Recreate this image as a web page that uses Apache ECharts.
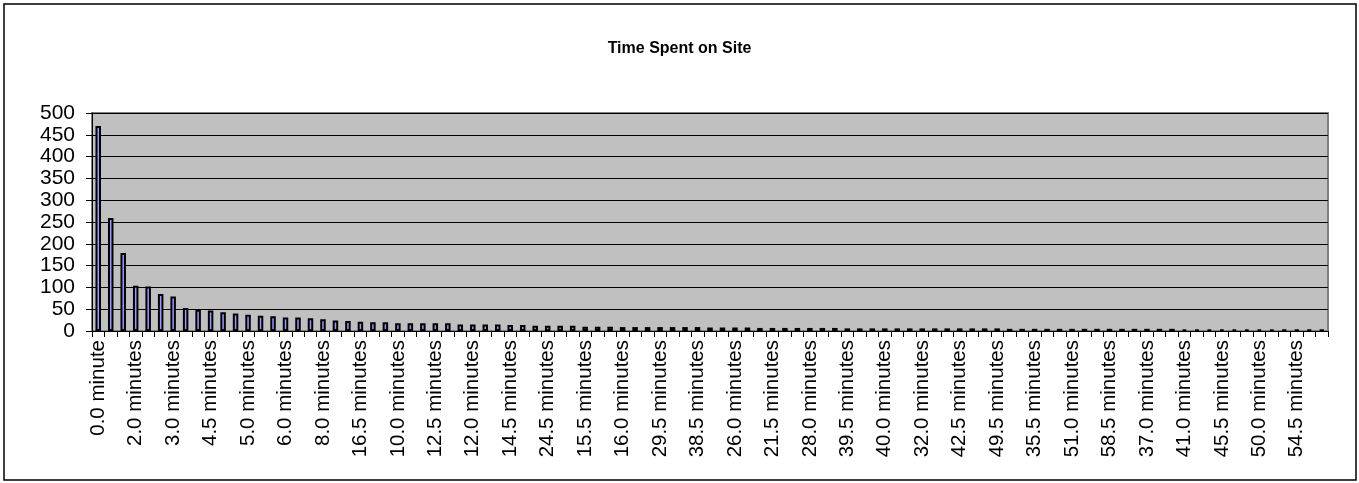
<!DOCTYPE html>
<html>
<head>
<meta charset="utf-8">
<script src="https://cdn.jsdelivr.net/npm/echarts@6/dist/echarts.min.js"></script>
<style>
html,body{margin:0;padding:0;background:#fff;}
#c{width:1359px;height:483px;}
</style>
</head>
<body>
<div id="c"></div>
<script>
const titleText = 'Time Spent on Site';

const minuteValues = [
  '0.0','0.5','1.0', '2.0','1.5','2.5', '3.0','3.5','4.0', '4.5','5.5','6.5',
  '5.0','7.0','7.5', '6.0','8.5','9.0', '8.0','9.5','11.0', '16.5','10.5','11.5',
  '10.0','13.0','13.5', '12.5','14.0','17.0', '12.0','18.0','15.0', '14.5','17.5','19.0',
  '24.5','18.5','20.0', '15.5','19.5','22.0', '16.0','20.5','21.0', '29.5','23.0','22.5',
  '38.5','25.0','23.5', '26.0','24.0','27.0', '21.5','25.5','30.0', '28.0','26.5','31.0',
  '39.5','27.5','33.0', '40.0','28.5','34.0', '32.0','30.5','36.0', '42.5','31.5','33.5',
  '49.5','34.5','43.0', '35.5','36.5','44.0', '51.0','32.5','47.0', '58.5','37.5','46.0',
  '37.0','38.0','48.0', '41.0','44.5','52.0', '45.5','39.0','53.5', '50.0','42.0','55.0',
  '54.5','47.5','56.5'
];
const categories = minuteValues.map(v => v === '0.0' ? v + ' minute' : v + ' minutes');

const visits = [
  470, 259, 179, 104, 102, 85, 79, 53, 49, 47,
  43, 40, 37, 35, 34, 31, 31, 29, 27, 24,
  23, 21, 20, 20, 18, 18, 18, 18, 18, 15,
  15, 15, 15, 14, 14, 12, 12, 12, 12, 10,
  10, 10, 9, 9, 9, 9, 9, 9, 9, 8,
  8, 8, 8, 7, 7, 7, 7, 7, 7, 7,
  6, 6, 6, 6, 6, 6, 6, 6, 6, 6,
  6, 6, 6, 5, 5, 5, 5, 5, 5, 5,
  5, 5, 5, 5, 5, 5, 5, 4, 4, 4,
  4, 4, 4, 4, 4, 3, 3, 3, 3
];

const yTicks = { min: 0, max: 500, interval: 50 };

const chart = echarts.init(document.getElementById('c'), null, {renderer: 'canvas'});
const font = '"Liberation Sans", Arial, sans-serif';
chart.setOption({
  animation: false,
  backgroundColor: '#ffffff',
  title: {
    text: titleText,
    left: 'center',
    top: 36,
    textStyle: { fontFamily: font, fontSize: 16, fontWeight: 'bold', color: '#000' }
  },
  graphic: [{
    type: 'rect',
    shape: { x: 4, y: 4, width: 1352, height: 476 },
    style: { fill: 'none', stroke: '#000', lineWidth: 1.5 },
    silent: true, z: 100
  }],
  grid: {
    left: 92, top: 113, right: 31, bottom: 152,
    show: true, backgroundColor: '#C0C0C0', borderColor: '#808080', borderWidth: 2,
    containLabel: false
  },
  xAxis: {
    type: 'category',
    data: categories,
    boundaryGap: true,
    axisLine: { show: true, lineStyle: { color: '#000', width: 1 } },
    axisTick: { show: true, interval: 0, length: 6, lineStyle: { color: '#000' } },
    axisLabel: {
      interval: 2, rotate: 90, margin: 9,
      fontFamily: font, fontSize: 20.5, color: '#000'
    },
    splitLine: { show: false }
  },
  yAxis: {
    type: 'value',
    min: yTicks.min, max: yTicks.max, interval: yTicks.interval,
    axisLine: { show: true, lineStyle: { color: '#000', width: 1 } },
    axisTick: { show: true, length: 6, lineStyle: { color: '#000' } },
    axisLabel: { fontFamily: font, fontSize: 21, color: '#000', margin: 17 },
    splitLine: { show: true, lineStyle: { color: '#000', width: 1 } }
  },
  series: [{
    type: 'bar',
    data: visits,
    barWidth: 5.5,
    itemStyle: { color: '#9999FF', borderColor: '#000', borderWidth: 2 }
  }]
});
</script>
</body>
</html>
